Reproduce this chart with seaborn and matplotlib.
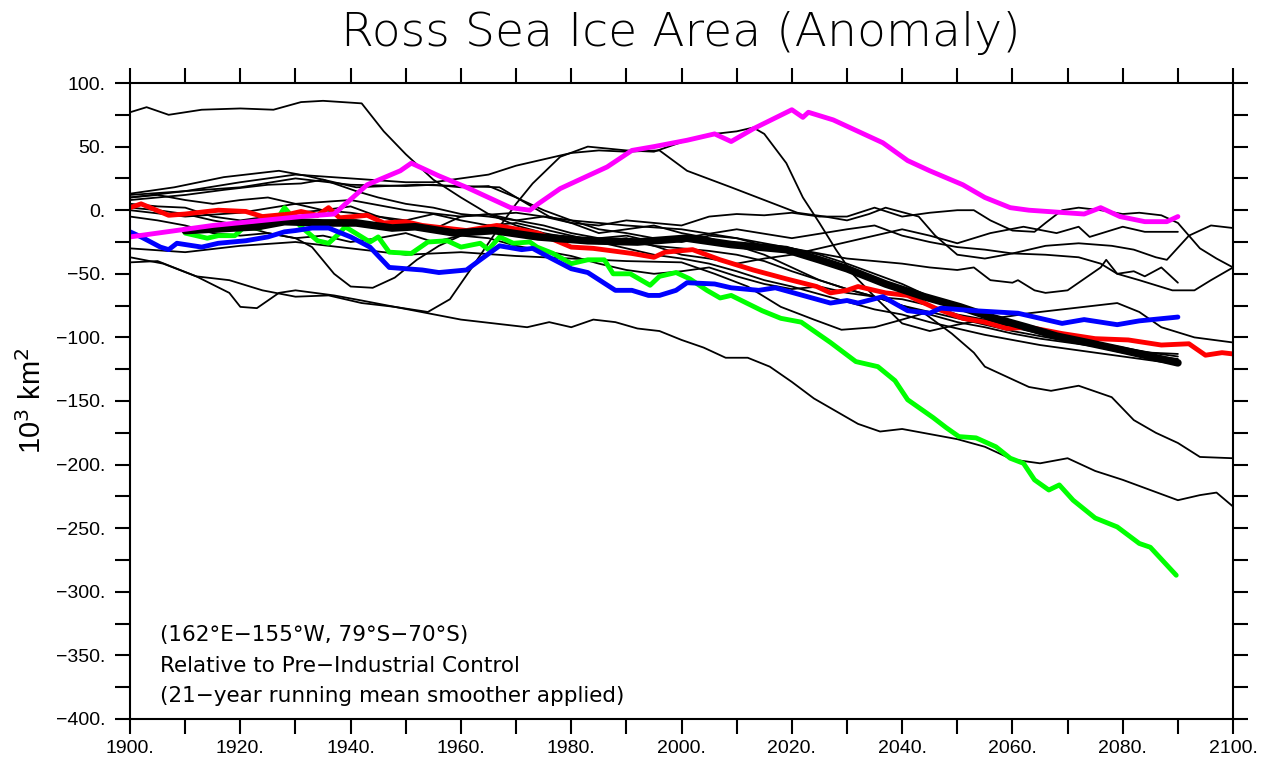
import matplotlib
matplotlib.use("Agg")
import matplotlib.pyplot as plt
import seaborn as sns
from matplotlib.ticker import MultipleLocator, FuncFormatter

sns.set_theme(style="white")
plt.rcParams["font.family"] = ["Liberation Sans", "DejaVu Sans"]
plt.rcParams["text.color"] = "black"
plt.rcParams["axes.labelcolor"] = "black"
plt.rcParams["xtick.color"] = "black"
plt.rcParams["ytick.color"] = "black"

# ---- individual ensemble members (thin black) ----
t1_years = [1900, 1903, 1907, 1913, 1920, 1926, 1931, 1935, 1942, 1946, 1950, 1955, 1960, 1965, 1970,
            1975, 1980, 1985, 1990, 1995, 2000, 2005, 2010, 2015, 2020, 2025, 2030, 2035, 2040, 2045,
            2050, 2055, 2060, 2065, 2070, 2075, 2080, 2085, 2090]
t1_vals = [77, 81, 75, 79, 80, 79, 85, 86, 84, 62, 44, 24, 10, -3, -12,
           -18, -22, -26, -24, -28, -30, -32, -35, -40, -48, -55, -62, -68, -75, -80,
           -85, -90, -95, -99, -103, -107, -110, -114, -117]

t2_years = [1900, 1906, 1912, 1918, 1920, 1923, 1927, 1930, 1937, 1942, 1948, 1954, 1958, 1962, 1967,
            1970, 1973, 1978, 1983, 1990, 1995, 2001, 2006, 2010, 2013, 2015, 2019, 2022, 2025, 2028,
            2031, 2035, 2040, 2045, 2050, 2055, 2060, 2063, 2069, 2075, 2079, 2083, 2087, 2093, 2100]
t2_vals = [-37, -42, -52, -65, -76, -77, -65, -63, -67, -71, -76, -80, -70, -45, -13,
           5, 21, 42, 50, 47, 46, 55, 60, 62, 65, 60, 37, 10, -10, -31,
           -50, -68, -89, -95, -90, -86, -83, -81, -78, -75, -73, -80, -92, -100, -104]

t3_years = [1900, 1905, 1912, 1918, 1924, 1930, 1936, 1942, 1948, 1954, 1960, 1966, 1972, 1976, 1980,
            1984, 1988, 1992, 1996, 2000, 2004, 2008, 2012, 2016, 2020, 2024, 2028, 2032, 2036, 2040,
            2045, 2050, 2055, 2060, 2065, 2070, 2075, 2080, 2085, 2090, 2094, 2097, 2100]
t3_vals = [-41, -40, -52, -55, -63, -68, -67, -73, -76, -81, -86, -89, -92, -88, -92,
           -86, -88, -93, -95, -102, -108, -116, -116, -123, -135, -148, -158, -168, -174, -172,
           -176, -180, -186, -196, -199, -195, -205, -212, -220, -228, -224, -222, -233]

t4_years = [1900, 1910, 1920, 1930, 1940, 1950, 1960, 1970, 1980, 1990, 2000, 2006, 2012, 2018, 2024,
            2029, 2035, 2040, 2044, 2049, 2053, 2055, 2059, 2063, 2067, 2072, 2078, 2082, 2086, 2090,
            2094, 2100]
t4_vals = [-30, -33, -28, -25, -30, -35, -33, -36, -38, -40, -41, -50, -60, -76, -86,
           -94, -92, -86, -81, -97, -112, -123, -131, -139, -142, -138, -147, -165, -175, -183,
           -194, -195]

t5_years = [1900, 1908, 1917, 1927, 1932, 1941, 1952, 1960, 1967, 1972, 1976, 1980, 1985, 1990, 1995,
            2000, 2005, 2010, 2015, 2020, 2025, 2030, 2035, 2040, 2045, 2050, 2053, 2056, 2060, 2064,
            2066, 2069, 2072, 2076, 2080, 2083, 2087, 2090, 2094, 2097, 2100]
t5_vals = [13, 18, 26, 31, 27, 18, 20, 19, 18, 5, -5, -10, -12, -8, -10,
           -12, -5, -3, -4, -2, -5, -5, 2, -5, -2, 0, 0, -8, -16, -17,
           -10, 0, 2, 0, -3, -2, -4, -10, -30, -38, -45]

t6_years = [1900, 1910, 1920, 1930, 1940, 1950, 1955, 1960, 1965, 1970, 1975, 1980, 1985, 1990, 1996,
            2001, 2009, 2015, 2021, 2026, 2030, 2034, 2037, 2043, 2046, 2050, 2055, 2060, 2066, 2072,
            2076, 2079, 2083, 2086, 2089, 2093, 2096, 2100]
t6_vals = [10, 15, 22, 28, 25, 22, 22, 25, 28, 35, 40, 45, 47, 46, 47,
           31, 18, 8, -2, -5, -8, -3, 2, -5, -20, -35, -38, -34, -35, -37,
           -42, -50, -55, -59, -63, -63, -55, -45]

t7_years = [1900, 1910, 1917, 1925, 1931, 1935, 1941, 1945, 1950, 1955, 1960, 1965, 1970, 1975, 1980,
            1985, 1990, 1995, 2000, 2005, 2010, 2015, 2020, 2025, 2030, 2035, 2040, 2045, 2050, 2055,
            2060, 2065, 2070, 2075, 2080, 2085, 2090]
t7_vals = [8, 12, 16, 20, 21, 24, 15, 10, 5, 2, -3, -5, -8, -5, -10,
           -18, -15, -12, -18, -22, -28, -35, -45, -55, -62, -68, -75, -82, -88, -92,
           -97, -101, -104, -107, -112, -115, -119]

t8_years = [1900, 1905, 1910, 1915, 1920, 1925, 1930, 1935, 1940, 1945, 1950, 1955, 1960, 1965, 1970,
            1975, 1980, 1985, 1990, 1995, 2000, 2010, 2020, 2030, 2035, 2040, 2045, 2050, 2055, 2060,
            2066, 2072, 2078, 2082, 2086, 2088, 2092, 2096, 2100]
t8_vals = [5, 3, 2, -5, -8, -5, -2, 0, 3, -5, -10, -15, -5, -3, -8,
           -12, -18, -22, -20, -25, -22, -15, -22, -15, -12, -20, -25, -29, -31, -34,
           -28, -26, -28, -31, -37, -39, -20, -12, -14]

t9_years = [1900, 1905, 1910, 1915, 1920, 1925, 1930, 1933, 1937, 1940, 1944, 1948, 1952, 1956, 1960,
            1965, 1970, 1975, 1980, 1985, 1990, 1995, 2000, 2005, 2010, 2015, 2020, 2025, 2030, 2035,
            2040, 2045, 2050, 2055, 2060, 2065, 2070, 2075, 2080, 2085, 2090]
t9_vals = [2, 0, -3, -8, -12, -18, -22, -29, -50, -60, -61, -53, -39, -28, -20,
           -12, -10, -15, -20, -25, -30, -35, -38, -42, -48, -55, -60, -66, -72, -78,
           -82, -88, -93, -98, -102, -106, -109, -112, -115, -118, -121]

t10_years = [1900, 1905, 1910, 1915, 1920, 1925, 1930, 1935, 1940, 1945, 1950, 1955, 1960, 1965, 1970,
             1975, 1980, 1985, 1990, 1995, 2000, 2005, 2010, 2015, 2020, 2025, 2030, 2035, 2040, 2045,
             2050, 2055, 2060, 2065, 2070, 2075, 2080, 2085, 2090]
t10_vals = [-5, -8, -12, -18, -20, -18, -22, -20, -25, -22, -18, -25, -20, -22, -28,
            -32, -36, -42, -47, -50, -48, -45, -52, -58, -62, -60, -65, -68, -70, -75,
            -82, -86, -92, -97, -101, -105, -109, -112, -113]

t11_years = [1900, 1905, 1910, 1915, 1920, 1925, 1930, 1935, 1940, 1945, 1950, 1955, 1960, 1965, 1970,
             1975, 1980, 1985, 1990, 1995, 2000, 2005, 2010, 2015, 2020, 2025, 2030, 2035, 2040, 2045,
             2050, 2056, 2062, 2068, 2072, 2074, 2077, 2080, 2084, 2090]
t11_vals = [10, 12, 8, 5, 8, 10, 5, 0, -2, -5, -8, -3, -8, -12, -18,
            -20, -22, -25, -22, -28, -35, -38, -42, -38, -35, -30, -25, -20, -15, -20,
            -26, -18, -13, -18, -13, -21, -17, -13, -17, -17]

t12_years = [1900, 1910, 1920, 1930, 1940, 1950, 1960, 1970, 1980, 1990, 2000, 2010, 2020, 2030, 2040,
             2045, 2050, 2053, 2056, 2060, 2061, 2064, 2066, 2070, 2076, 2077, 2079, 2082, 2084, 2087,
             2090]
t12_vals = [0, -5, -2, 5, 8, 0, -5, -2, -8, -12, -15, -22, -30, -38, -42,
            -45, -47, -45, -55, -57, -55, -63, -65, -63, -45, -39, -50, -48, -52, -45,
            -57]

t13_years = [1900, 1910, 1920, 1930, 1940, 1950, 1955, 1960, 1965, 1970, 1975, 1980, 1985, 1990, 1995,
             2000, 2005, 2010, 2015, 2020, 2025, 2030, 2035, 2040, 2045, 2050, 2055, 2060, 2065, 2070,
             2075, 2080, 2085, 2090]
t13_vals = [12, 15, 18, 25, 20, 19, 20, 18, 19, 10, 0, -8, -15, -18, -22,
            -25, -20, -22, -28, -30, -35, -42, -50, -58, -68, -76, -83, -90, -95, -99,
            -104, -108, -112, -115]

# ---- highlighted members ----
magenta_years = [1900, 1915, 1931, 1937, 1943, 1949, 1951, 1956, 1961, 1965, 1969, 1972.5, 1974, 1978, 1983,
                 1986.5, 1991, 1995, 2001, 2006, 2009, 2013, 2020, 2022, 2023, 2027.5, 2030, 2033, 2036.5,
                 2041, 2045, 2051, 2055, 2059.6, 2063, 2073, 2076, 2079.5, 2084, 2088, 2090]
magenta_vals = [-21, -12, -5, -3, 20, 31, 37, 27, 18, 10, 2, 0, 5, 17, 27,
                34, 47, 50, 55, 60, 54, 64, 79, 73, 77, 71, 66, 60, 53,
                39, 31, 20, 10, 2, 0, -3, 2, -5, -9, -9, -5]

red_years = [1900, 1902, 1907, 1910, 1916, 1921, 1924, 1929, 1931, 1934, 1936, 1938, 1943, 1946, 1950,
             1953, 1961, 1966.5, 1974, 1980, 1984, 1991, 1995, 1997, 2002, 2007, 2013, 2019, 2024.5,
             2027, 2030, 2032, 2037, 2041, 2046, 2051, 2055, 2059, 2063, 2069, 2075, 2081, 2087,
             2092, 2095, 2098, 2100]
red_vals = [2, 5, -4, -3, 0, -1, -5, -3, -1, -4, 2, -6, -4, -10, -9,
            -12, -16, -12, -18, -29, -30, -34, -37, -33, -31, -39, -47, -54, -60,
            -65, -63, -60, -65, -67, -77, -85, -88, -93, -92, -97, -101, -102, -106,
            -105, -114, -112, -113]

blue_years = [1900, 1902, 1905.5, 1907, 1908.5, 1913, 1916, 1921, 1925, 1928, 1930, 1933, 1936, 1940,
              1943.5, 1947, 1953, 1956, 1961, 1963.5, 1967, 1971, 1973, 1976, 1980, 1983, 1988, 1991,
              1994, 1996, 1999, 2001, 2006, 2009, 2014, 2017, 2022, 2027, 2030, 2032, 2036.5, 2041,
              2045, 2047, 2053, 2061, 2069, 2073, 2079, 2083, 2090]
blue_vals = [-17, -21, -29, -31, -26, -29, -26, -24, -21, -17, -16, -14, -14, -21,
             -29, -45, -47, -49, -47, -39, -28, -31, -30, -37, -46, -49, -63, -63,
             -67, -67, -63, -57, -58, -61, -63, -61, -67, -73, -71, -73, -68, -79,
             -81, -77, -79, -81, -89, -86, -90, -87, -84]

green_years = [1910, 1914, 1916, 1919, 1920.5, 1923.6, 1925, 1927, 1928, 1931, 1934, 1936, 1938, 1939,
               1942, 1943.5, 1945, 1947, 1951, 1954, 1957.5, 1960, 1963.5, 1965, 1967, 1969.5, 1972.5,
               1973.8, 1976.7, 1980, 1983, 1986, 1987.6, 1990.7, 1994.3, 1996, 1999, 2001.5, 2004.6,
               2007, 2009, 2014.6, 2018, 2021.7, 2027, 2031.6, 2035.6, 2038.7, 2041, 2045.6, 2048,
               2050.3, 2053.4, 2057, 2059.6, 2062, 2064, 2066.6, 2068.5, 2071, 2075, 2079, 2083,
               2085, 2089.7]
green_vals = [-18, -22, -20, -20, -14, -14, -5, -5, 2, -13, -24, -26, -18, -13,
              -21, -25, -21, -33, -34, -25, -24, -29, -26, -31, -21, -26, -25,
              -29, -34, -42, -39, -39, -50, -50, -59, -52, -49, -54, -63,
              -69, -67, -79, -85, -88, -104, -119, -123, -134, -149, -163, -171,
              -178, -179, -186, -195, -199, -212, -220, -216, -228, -242, -249, -262,
              -265, -287]

mean_years = [1910, 1923, 1928, 1935, 1941, 1947.5, 1951.7, 1959, 1966, 1974, 1983, 1992, 2001, 2009,
              2019, 2025, 2030, 2037, 2044, 2050.5, 2056, 2062.6, 2068, 2074.6, 2080, 2085, 2090]
mean_vals = [-16, -13, -9, -10, -10, -14, -13, -18, -16, -21, -24, -25, -22, -27,
             -31, -39, -46, -58, -68, -76, -84, -92, -99, -105, -110, -115, -120]

thin_runs = [
    (t1_years, t1_vals), (t2_years, t2_vals), (t3_years, t3_vals), (t4_years, t4_vals),
    (t5_years, t5_vals), (t6_years, t6_vals), (t7_years, t7_vals), (t8_years, t8_vals),
    (t9_years, t9_vals), (t10_years, t10_vals), (t11_years, t11_vals), (t12_years, t12_vals),
    (t13_years, t13_vals),
]

fig = plt.figure(figsize=(12.7, 7.63), dpi=100)
ax = fig.add_axes([0.1024, 0.0577, 0.8685, 0.8335])

for yrs, vals in thin_runs:
    sns.lineplot(x=yrs, y=vals, ax=ax, color="black", lw=1.3, estimator=None, sort=False)

sns.lineplot(x=green_years, y=green_vals, ax=ax, color="#00ff00", lw=3.5, estimator=None, sort=False)
sns.lineplot(x=red_years, y=red_vals, ax=ax, color="#ff0000", lw=3.5, estimator=None, sort=False)
sns.lineplot(x=mean_years, y=mean_vals, ax=ax, color="black", lw=5.5, estimator=None, sort=False)
sns.lineplot(x=blue_years, y=blue_vals, ax=ax, color="#0000ff", lw=3.5, estimator=None, sort=False)
sns.lineplot(x=magenta_years, y=magenta_vals, ax=ax, color="#ff00ff", lw=3.5, estimator=None, sort=False)

ax.set_xlim(1900, 2100)
ax.set_ylim(-400, 100)
ax.xaxis.set_major_locator(MultipleLocator(20))
ax.xaxis.set_minor_locator(MultipleLocator(10))
ax.yaxis.set_major_locator(MultipleLocator(50))
ax.yaxis.set_minor_locator(MultipleLocator(25))
dot_fmt = FuncFormatter(lambda v, p: ("%d." % round(v)).replace("-", "\u2212"))
ax.xaxis.set_major_formatter(dot_fmt)
ax.yaxis.set_major_formatter(dot_fmt)
ax.tick_params(which="both", direction="out", length=11, width=1.5, color="black",
               top=True, right=True, bottom=True, left=True, labelsize=14)
ax.tick_params(axis="y", pad=7)
ax.tick_params(axis="x", pad=4)
for s in ax.spines.values():
    s.set_visible(True)
    s.set_color("black")
    s.set_linewidth(1.5)
ax.set_xlabel("")
ax.set_ylabel("10$^3$ km$^2$", fontsize=21, labelpad=6)

fig.text(0.536, 0.957, "Ross Sea Ice Area (Anomaly)", ha="center", va="center",
         fontsize=34, fontweight=200, family=["DejaVu Sans"])

notes = ["(162\u00b0E\u2212155\u00b0W, 79\u00b0S\u221270\u00b0S)",
         "Relative to Pre\u2212Industrial Control",
         "(21\u2212year running mean smoother applied)"]
for i, line in enumerate(notes):
    ax.text(1905.4, -334 - i * 24, line, fontsize=15.5, ha="left", va="center",
            family=["DejaVu Sans"])

fig.savefig("out.png", dpi=100)
